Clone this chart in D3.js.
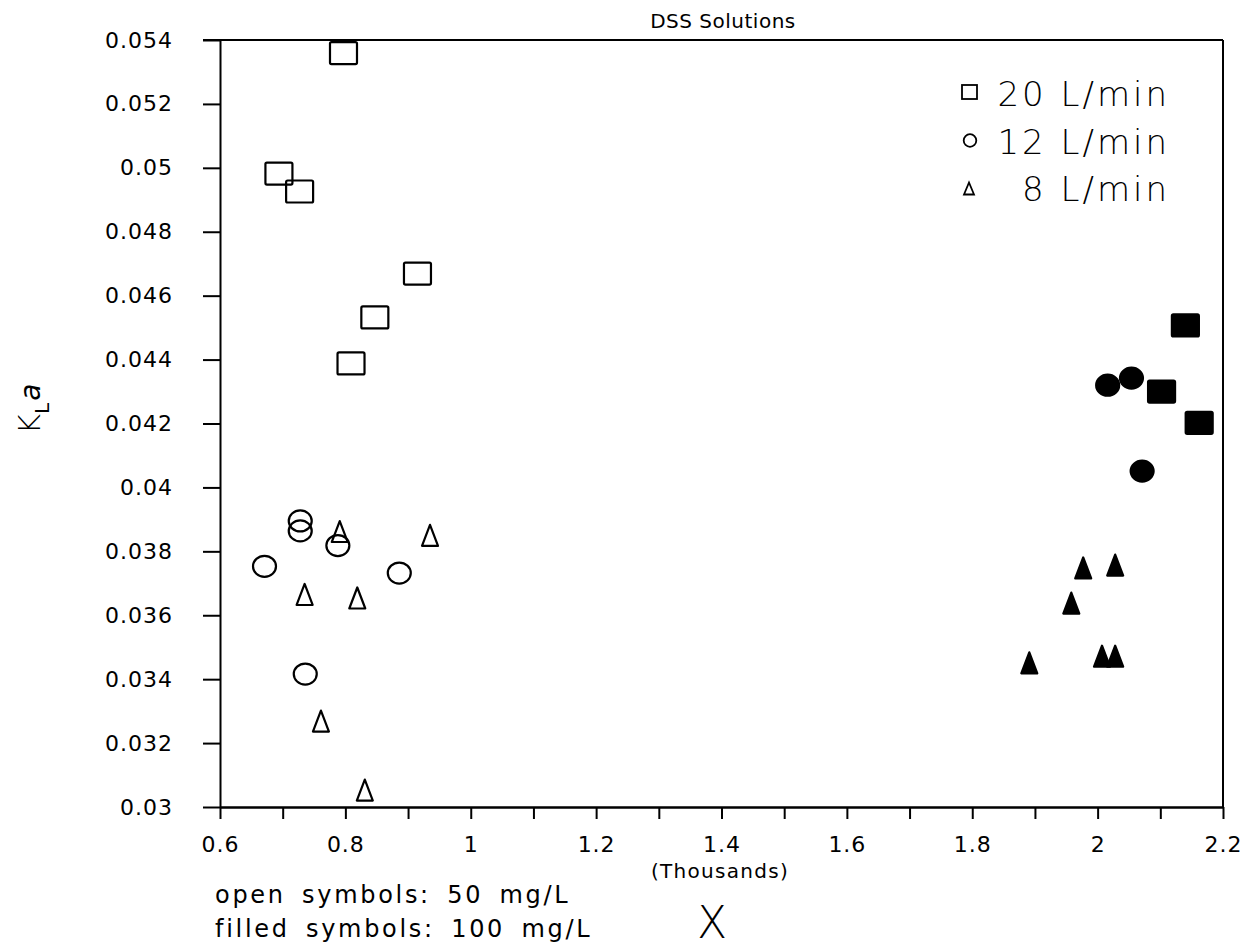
<!DOCTYPE html>
<html lang="en">
<head>
<meta charset="UTF-8">
<title>DSS Solutions</title>
<script src="https://d3js.org/d3.v7.min.js"></script>
<style>
    body { margin: 0; background: #fff; }
    text { font-family: "DejaVu Sans", sans-serif; fill: #000; }
    .axis path, .axis line { stroke: #000; stroke-width: 2px; }
</style>
</head>
<body>
<svg id="chart"></svg>
<script>
    // axis ticks
    const xLabelTicks = [0.6, 0.8, 1, 1.2, 1.4, 1.6, 1.8, 2, 2.2];
    const xMinorTicks = [0.7, 0.9, 1.1, 1.3, 1.5, 1.7, 1.9, 2.1];
    const yTicks = [0.03, 0.032, 0.034, 0.036, 0.038, 0.04, 0.042, 0.044, 0.046, 0.048, 0.05, 0.052, 0.054];

    // open symbols: 50 mg/L
    const sq50 = [[0.797, 0.05359], [0.694, 0.04982], [0.727, 0.04926], [0.915, 0.04669], [0.847, 0.04532], [0.809, 0.04388]];
    const circ50 = [[0.671, 0.03753], [0.728, 0.03895], [0.728, 0.03864], [0.788, 0.03818], [0.886, 0.03732], [0.736, 0.03416]];
    const tri50 = [[0.791, 0.03862], [0.935, 0.03850], [0.735, 0.03665], [0.819, 0.03654], [0.761, 0.03269], [0.831, 0.03053]];

    // filled symbols: 100 mg/L
    const sq100 = [[2.140, 0.04507], [2.102, 0.04300], [2.162, 0.04202]];
    const circ100 = [[2.016, 0.04320], [2.054, 0.04342], [2.071, 0.04051]];
    const tri100 = [[1.977, 0.03748], [2.028, 0.03757], [1.958, 0.03638], [2.007, 0.03472], [2.028, 0.03472], [1.891, 0.03451]];

    const legendLabels = ["20 L/min", "12 L/min", "8 L/min"];

    const width = 1245, height = 950;
    const plotL = 220, plotR = 1223, plotT = 40, plotB = 807;

    const svg = d3.select('#chart').attr('width', width).attr('height', height);

    const x = d3.scaleLinear().domain([0.6, 2.2]).range([plotL, plotR]);
    const y = d3.scaleLinear().domain([0.03, 0.054]).range([plotB, plotT]);

    // frame: top and right lines
    svg.append('line').attr('x1', plotL - 17).attr('x2', plotR).attr('y1', plotT).attr('y2', plotT)
        .attr('stroke', '#000').attr('stroke-width', 2);
    svg.append('line').attr('x1', plotR).attr('x2', plotR).attr('y1', plotT).attr('y2', plotB)
        .attr('stroke', '#000').attr('stroke-width', 2);

    const yAxis = svg.append('g').attr('class', 'axis').attr('transform', `translate(${plotL},0)`)
        .call(d3.axisLeft(y).tickValues(yTicks).tickSize(17).tickSizeOuter(0).tickPadding(30).tickFormat(d3.format('~g')));
    yAxis.selectAll('text').style('font-size', '22px').style('letter-spacing', '1px');

    svg.append('g').attr('class', 'axis').attr('transform', `translate(0,${plotB})`)
        .call(d3.axisBottom(x).tickValues(xMinorTicks).tickSize(12).tickSizeOuter(0).tickFormat(''));
    const xAxis = svg.append('g').attr('class', 'axis').attr('transform', `translate(0,${plotB})`)
        .call(d3.axisBottom(x).tickValues(xLabelTicks).tickSize(12).tickSizeOuter(0).tickFormat(d3.format('~g')));
    xAxis.selectAll('text').attr('y', 45).attr('dy', null)
        .style('font-size', '22px').style('letter-spacing', '1px');

    // markers
    const sqW = 27, sqH = 22, triW = 16, triH = 21;
    const triPath = (w, h) => `M0,${-h / 2}L${w / 2},${h / 2}L${-w / 2},${h / 2}Z`;

    function squares(data, filled) {
        svg.append('g').selectAll('rect').data(data).join('rect')
            .attr('x', d => x(d[0]) - sqW / 2).attr('y', d => y(d[1]) - sqH / 2)
            .attr('width', sqW).attr('height', sqH).attr('rx', 1.5)
            .attr('fill', filled ? '#000' : 'none').attr('stroke', '#000').attr('stroke-width', 2.2);
    }
    function circles(data, filled) {
        svg.append('g').selectAll('ellipse').data(data).join('ellipse')
            .attr('cx', d => x(d[0])).attr('cy', d => y(d[1])).attr('rx', 11.5).attr('ry', 10.5)
            .attr('fill', filled ? '#000' : 'none').attr('stroke', '#000').attr('stroke-width', 2.2);
    }
    function triangles(data, filled) {
        svg.append('g').selectAll('path').data(data).join('path')
            .attr('transform', d => `translate(${x(d[0])},${y(d[1])})`)
            .attr('d', triPath(triW, triH))
            .attr('fill', filled ? '#000' : 'none').attr('stroke', '#000').attr('stroke-width', 2.2)
            .attr('stroke-linejoin', 'round');
    }
    squares(sq50, false); circles(circ50, false); triangles(tri50, false);
    squares(sq100, true); circles(circ100, true); triangles(tri100, true);

    // legend
    const legY = [106, 153.5, 200.5];
    const lg = svg.append('g');
    lg.append('rect').attr('x', 962).attr('y', legY[0] - 21).attr('width', 15).attr('height', 14)
        .attr('fill', 'none').attr('stroke', '#000').attr('stroke-width', 1.8);
    lg.append('circle').attr('cx', 970).attr('cy', legY[1] - 13).attr('r', 6.3)
        .attr('fill', 'none').attr('stroke', '#000').attr('stroke-width', 1.8);
    lg.append('path').attr('transform', `translate(969,${legY[2] - 12})`).attr('d', triPath(10, 12))
        .attr('fill', 'none').attr('stroke', '#000').attr('stroke-width', 1.8);
    lg.selectAll('text').data(legendLabels).join('text')
        .attr('x', 1170).attr('y', (d, i) => legY[i]).attr('text-anchor', 'end')
        .style('font-size', '34px').style('letter-spacing', '3px').style('font-weight', '300')
        .text(d => d);

    // titles and notes
    svg.append('text').attr('x', 723).attr('y', 28).attr('text-anchor', 'middle')
        .style('font-size', '20px').style('letter-spacing', '0.5px').text('DSS Solutions');

    svg.append('text').attr('x', 720).attr('y', 878).attr('text-anchor', 'middle')
        .style('font-size', '20px').style('letter-spacing', '1.3px').text('(Thousands)');
    svg.append('text').attr('x', 712).attr('y', 938).attr('text-anchor', 'middle')
        .style('font-size', '44px').style('font-weight', '200').text('X');

    const notes = svg.append('g').style('font-size', '24px').style('letter-spacing', '2.7px').style('word-spacing', '6px');
    notes.append('text').attr('x', 215).attr('y', 903).text('open symbols: 50 mg/L');
    notes.append('text').attr('x', 215).attr('y', 937).text('filled symbols: 100 mg/L');

    // y label K_L a
    const yl = svg.append('text').attr('transform', 'translate(40,409) rotate(-90)').attr('text-anchor', 'middle');
    yl.append('tspan').style('font-size', '31px').style('font-weight', '300').text('K');
    yl.append('tspan').style('font-size', '20px').attr('dy', 9).text('L');
    yl.append('tspan').style('font-size', '28px').style('font-style', 'italic').attr('dy', -9).attr('dx', 2).text('a');
</script>
</body>
</html>
